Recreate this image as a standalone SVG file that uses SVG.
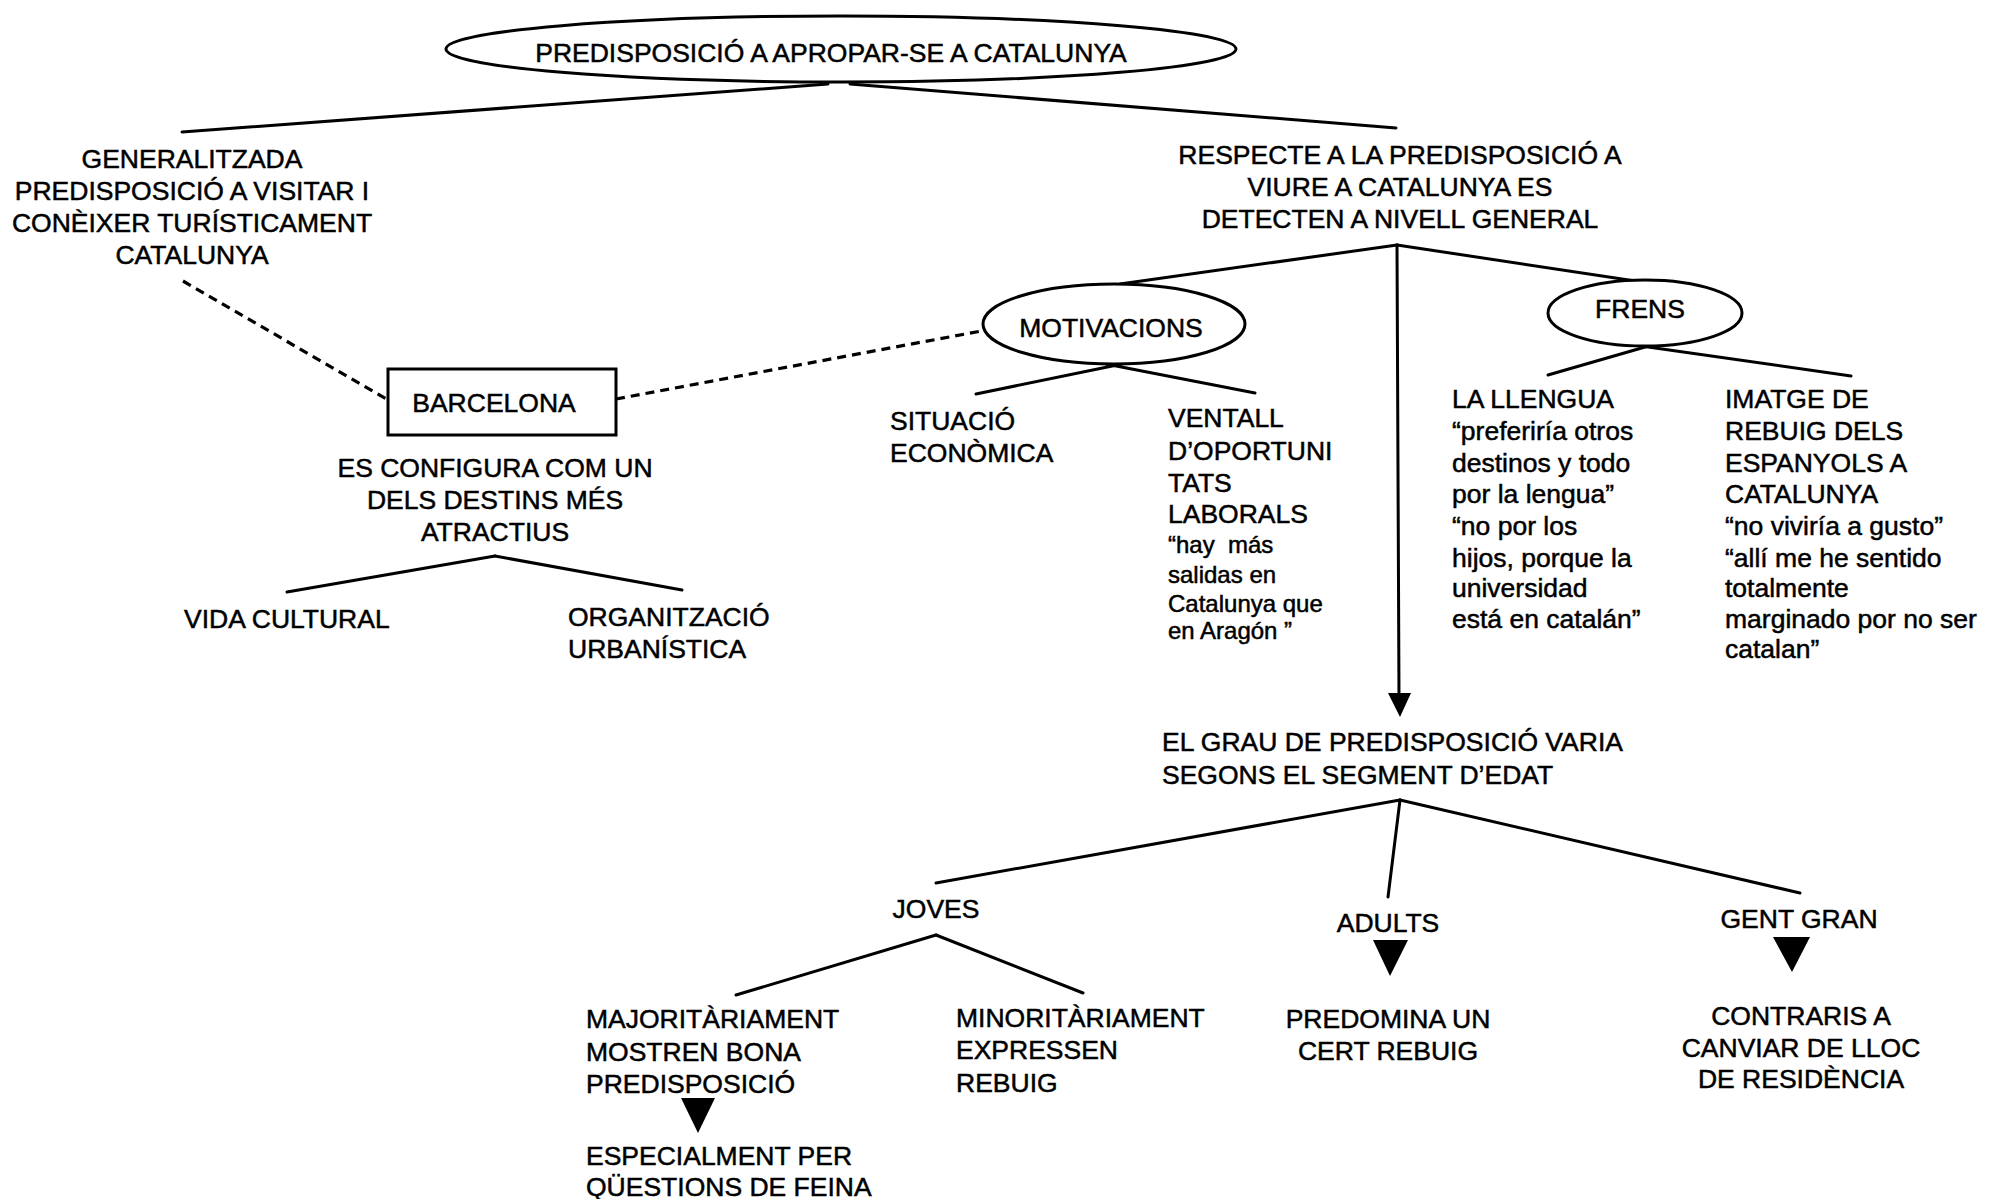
<svg xmlns="http://www.w3.org/2000/svg" width="2001" height="1199" viewBox="0 0 2001 1199">
<style>
  text { font-family: "Liberation Sans", Arial, sans-serif; font-size: 26.5px; fill: #000; stroke: #000; stroke-width: 0.5; }
  .c { text-anchor: middle; }
  .q { font-size: 24px; }
  .shape { fill: #fff; stroke: #000; stroke-width: 3; }
  .ln { stroke: #000; stroke-width: 3; fill: none; stroke-linecap: round; }
  .dash { stroke: #000; stroke-width: 3.2; fill: none; stroke-dasharray: 9 6; }
  .tri { fill: #000; stroke: none; }
</style>
<rect x="0" y="0" width="2001" height="1199" fill="#fff"/>

<g id="connectors">
  <line class="ln" x1="828" y1="84" x2="182" y2="132"/>
  <line class="ln" x1="850" y1="84" x2="1396" y2="128"/>
  <line class="dash" x1="183" y1="281" x2="388" y2="400"/>
  <line class="dash" x1="616" y1="399" x2="992" y2="329"/>
  <line class="ln" x1="495" y1="556" x2="287" y2="592"/>
  <line class="ln" x1="495" y1="556" x2="682" y2="590"/>
  <line class="ln" x1="1397" y1="245" x2="1120" y2="284"/>
  <line class="ln" x1="1397" y1="245" x2="1642" y2="282"/>
  <line class="ln" x1="1397" y1="245" x2="1399" y2="696"/>
  <polygon class="tri" points="1388,693 1411,693 1400,717"/>
  <line class="ln" x1="1122" y1="364" x2="976" y2="394"/>
  <line class="ln" x1="1106" y1="364" x2="1255" y2="393"/>
  <line class="ln" x1="1652" y1="345" x2="1548" y2="375"/>
  <line class="ln" x1="1634" y1="345" x2="1851" y2="376"/>
  <line class="ln" x1="1400" y1="800" x2="936" y2="883"/>
  <line class="ln" x1="1400" y1="800" x2="1388" y2="897"/>
  <line class="ln" x1="1400" y1="800" x2="1800" y2="893"/>
  <line class="ln" x1="936" y1="935" x2="736" y2="995"/>
  <line class="ln" x1="936" y1="935" x2="1083" y2="993"/>
  <polygon class="tri" points="681,1098 715,1098 698,1133"/>
  <polygon class="tri" points="1373,940 1408,940 1390,976"/>
  <polygon class="tri" points="1773,937 1810,937 1792,972"/>
</g>

<g id="node-root">
  <ellipse class="shape" cx="841" cy="49" rx="395" ry="33"/>
  <text class="c" x="831" y="62">PREDISPOSICIÓ A APROPAR-SE A CATALUNYA</text>
</g>

<g id="node-generalitzada">
  <text class="c" x="192" y="168">GENERALITZADA</text>
  <text class="c" x="192" y="200">PREDISPOSICIÓ A VISITAR I</text>
  <text class="c" x="192" y="232">CONÈIXER TURÍSTICAMENT</text>
  <text class="c" x="192" y="264">CATALUNYA</text>
</g>

<g id="node-respecte">
  <text class="c" x="1400" y="164">RESPECTE A LA PREDISPOSICIÓ A</text>
  <text class="c" x="1400" y="196">VIURE A CATALUNYA ES</text>
  <text class="c" x="1400" y="228">DETECTEN A NIVELL GENERAL</text>
</g>

<g id="node-barcelona">
  <rect class="shape" x="388" y="369" width="228" height="66"/>
  <text class="c" x="494" y="412">BARCELONA</text>
</g>

<g id="node-configura">
  <text class="c" x="495" y="477">ES CONFIGURA COM UN</text>
  <text class="c" x="495" y="509">DELS DESTINS MÉS</text>
  <text class="c" x="495" y="541">ATRACTIUS</text>
</g>

<g id="node-vida-cultural">
  <text x="184" y="628">VIDA CULTURAL</text>
</g>

<g id="node-organitzacio">
  <text x="568" y="626">ORGANITZACIÓ</text>
  <text x="568" y="658">URBANÍSTICA</text>
</g>

<g id="node-motivacions">
  <ellipse class="shape" cx="1114" cy="324" rx="131" ry="40"/>
  <text class="c" x="1111" y="337">MOTIVACIONS</text>
</g>

<g id="node-situacio">
  <text x="890" y="430">SITUACIÓ</text>
  <text x="890" y="462">ECONÒMICA</text>
</g>

<g id="node-ventall">
  <text x="1168" y="427">VENTALL</text>
  <text x="1168" y="460">D’OPORTUNI</text>
  <text x="1168" y="492">TATS</text>
  <text x="1168" y="523">LABORALS</text>
  <text class="q" x="1168" y="553" xml:space="preserve">“hay  más</text>
  <text class="q" x="1168" y="583">salidas en</text>
  <text class="q" x="1168" y="612">Catalunya que</text>
  <text class="q" x="1168" y="639" xml:space="preserve">en Aragón ”</text>
</g>

<g id="node-frens">
  <ellipse class="shape" cx="1645" cy="313" rx="97" ry="33"/>
  <text class="c" x="1640" y="318">FRENS</text>
</g>

<g id="node-llengua">
  <text x="1452" y="408">LA LLENGUA</text>
  <text x="1452" y="440">“preferiría otros</text>
  <text x="1452" y="472">destinos y todo</text>
  <text x="1452" y="503">por la lengua”</text>
  <text x="1452" y="535">“no por los</text>
  <text x="1452" y="567">hijos, porque la</text>
  <text x="1452" y="597">universidad</text>
  <text x="1452" y="628">está en catalán”</text>
</g>

<g id="node-imatge">
  <text x="1725" y="408">IMATGE DE</text>
  <text x="1725" y="440">REBUIG DELS</text>
  <text x="1725" y="472">ESPANYOLS A</text>
  <text x="1725" y="503">CATALUNYA</text>
  <text x="1725" y="535">“no viviría a gusto”</text>
  <text x="1725" y="567">“allí me he sentido</text>
  <text x="1725" y="597">totalmente</text>
  <text x="1725" y="628">marginado por no ser</text>
  <text x="1725" y="658">catalan”</text>
</g>

<g id="node-grau">
  <text x="1162" y="751">EL GRAU DE PREDISPOSICIÓ VARIA</text>
  <text x="1162" y="784">SEGONS EL SEGMENT D’EDAT</text>
</g>

<g id="node-joves">
  <text class="c" x="936" y="918">JOVES</text>
</g>

<g id="node-majoritariament">
  <text x="586" y="1028">MAJORITÀRIAMENT</text>
  <text x="586" y="1061">MOSTREN BONA</text>
  <text x="586" y="1093">PREDISPOSICIÓ</text>
</g>

<g id="node-especialment">
  <text x="586" y="1165">ESPECIALMENT PER</text>
  <text x="586" y="1196">QÜESTIONS DE FEINA</text>
</g>

<g id="node-minoritariament">
  <text x="956" y="1027">MINORITÀRIAMENT</text>
  <text x="956" y="1059">EXPRESSEN</text>
  <text x="956" y="1092">REBUIG</text>
</g>

<g id="node-adults">
  <text class="c" x="1388" y="932">ADULTS</text>
</g>

<g id="node-predomina">
  <text class="c" x="1388" y="1028">PREDOMINA UN</text>
  <text class="c" x="1388" y="1060">CERT REBUIG</text>
</g>

<g id="node-gent-gran">
  <text class="c" x="1799" y="928">GENT GRAN</text>
</g>

<g id="node-contraris">
  <text class="c" x="1801" y="1025">CONTRARIS A</text>
  <text class="c" x="1801" y="1057">CANVIAR DE LLOC</text>
  <text class="c" x="1801" y="1088">DE RESIDÈNCIA</text>
</g>
</svg>
